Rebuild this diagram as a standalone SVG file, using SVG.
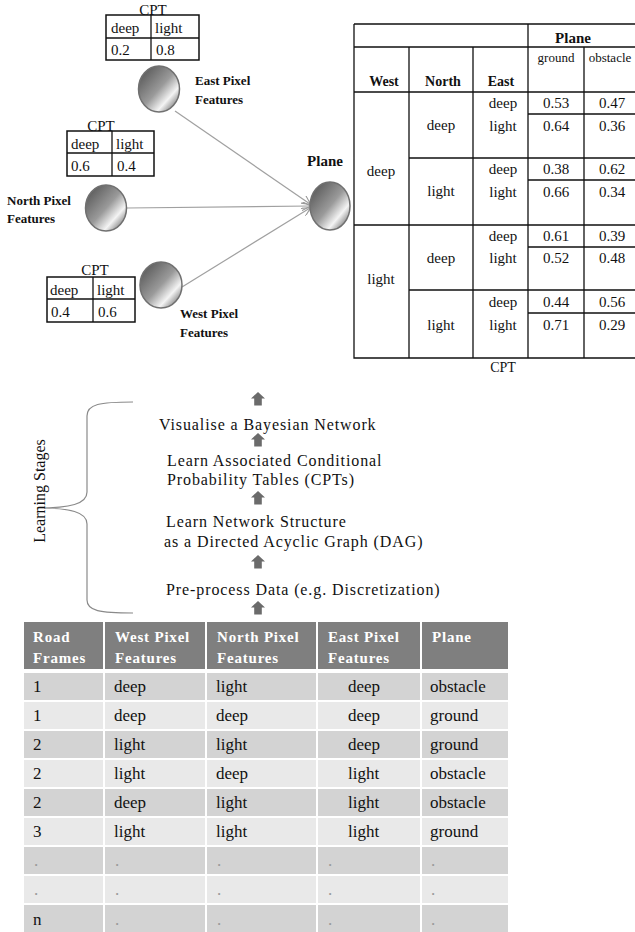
<svg xmlns="http://www.w3.org/2000/svg" width="635" height="932" viewBox="0 0 635 932">
<defs>
<linearGradient id="ball" x1="0" y1="0" x2="1" y2="1">
<stop offset="0" stop-color="#4a4a4a"/>
<stop offset="0.5" stop-color="#9a9a9a"/>
<stop offset="0.72" stop-color="#f4f4f4"/>
<stop offset="0.88" stop-color="#8a8a8a"/>
<stop offset="1" stop-color="#666"/>
</linearGradient>
<marker id="arr" viewBox="0 0 10 10" refX="9" refY="5" markerWidth="9" markerHeight="9" markerUnits="userSpaceOnUse" orient="auto">
<path d="M0,0 L10,5 L0,10" fill="none" stroke="#999" stroke-width="1.2"/>
</marker>
<path id="blk" d="M-3.8,13.5 L-3.8,6.5 L-7,6.5 L0,0 L7,6.5 L3.8,6.5 L3.8,13.5 Z"/>
</defs>
<style>
text{font-family:"Liberation Serif","Times New Roman",serif;fill:#111}
.t15{font-size:15px}
.lbl{font-size:13px;font-weight:bold}
.node{fill:url(#ball);stroke:#707070;stroke-width:1.5}
.cpt{fill:#fff;stroke:#111;stroke-width:1.5}
.ln{stroke:#111;stroke-width:1.3;fill:none}
.edge{stroke:#a0a0a0;stroke-width:1.2;fill:none}
.hd{font-size:14px;font-weight:bold}
.v{font-size:15px;text-anchor:middle}
.st{font-size:16px;letter-spacing:0.9px}
.th{font-size:15px;font-weight:bold;fill:#fff;letter-spacing:0.8px}
.td{font-size:17px}
.dot{font-size:17px;fill:#999}
.hdr{fill:#7f7f7f}
.ro{fill:#d3d3d3}
.re{fill:#e9e9e9}
.up{fill:#6b6b6b}
</style>

<!-- connectors -->
<g id="connectors">
<line class="edge" x1="175" y1="111" x2="310" y2="204" marker-end="url(#arr)"/>
<line class="edge" x1="127" y1="208" x2="310" y2="206" marker-end="url(#arr)"/>
<line class="edge" x1="182" y1="287" x2="310" y2="208" marker-end="url(#arr)"/>
</g>

<!-- East node -->
<g id="east">
<text class="t15" x="153" y="15" text-anchor="middle">CPT</text>
<rect class="cpt" x="106" y="15" width="93" height="45"/>
<line class="ln" x1="106" y1="38" x2="199" y2="38"/>
<line class="ln" x1="151" y1="15" x2="151" y2="60"/>
<text class="t15" x="111" y="33">deep</text>
<text class="t15" x="155" y="33">light</text>
<text class="t15" x="111" y="55">0.2</text>
<text class="t15" x="156" y="55">0.8</text>
<ellipse class="node" cx="159" cy="89" rx="20.5" ry="23"/>
<text class="lbl" x="195" y="85">East Pixel</text>
<text class="lbl" x="195" y="104">Features</text>
</g>

<!-- North node -->
<g id="north">
<text class="t15" x="101" y="131" text-anchor="middle">CPT</text>
<rect class="cpt" x="67" y="131" width="87" height="45"/>
<line class="ln" x1="67" y1="153" x2="154" y2="153"/>
<line class="ln" x1="112" y1="131" x2="112" y2="176"/>
<text class="t15" x="71" y="149">deep</text>
<text class="t15" x="116" y="149">light</text>
<text class="t15" x="71" y="171">0.6</text>
<text class="t15" x="117" y="171">0.4</text>
<ellipse class="node" cx="106" cy="208" rx="20.5" ry="23"/>
<text class="lbl" x="7" y="205">North Pixel</text>
<text class="lbl" x="7" y="223">Features</text>
</g>

<!-- West node -->
<g id="west">
<text class="t15" x="95" y="275" text-anchor="middle">CPT</text>
<rect class="cpt" x="47" y="277" width="88" height="45"/>
<line class="ln" x1="47" y1="299" x2="135" y2="299"/>
<line class="ln" x1="93" y1="277" x2="93" y2="322"/>
<text class="t15" x="50" y="295">deep</text>
<text class="t15" x="97" y="295">light</text>
<text class="t15" x="51" y="317">0.4</text>
<text class="t15" x="98" y="317">0.6</text>
<ellipse class="node" cx="161" cy="285" rx="21" ry="23"/>
<text class="lbl" x="180" y="318">West Pixel</text>
<text class="lbl" x="180" y="337">Features</text>
</g>

<!-- Plane node -->
<g id="plane">
<text x="325" y="166" text-anchor="middle" style="font-size:15px;font-weight:bold">Plane</text>
<ellipse class="node" cx="330" cy="206" rx="20" ry="24"/>
</g>

<!-- Plane CPT table -->
<g id="plane-cpt">
<path class="ln" d="M354,24 H640 M354,24 V358 H640 M354,47 H640 M354,92 H640 M354,225 H640 M409,158 H640 M409,290 H640 M528,114 H640 M528,180 H640 M528,247 H640 M528,313 H640 M528,24 V358 M409,47 V358 M473,47 V358 M584,47 V358"/>
<text x="573" y="43" text-anchor="middle" style="font-size:15px;font-weight:bold">Plane</text>
<text x="556" y="62" text-anchor="middle" style="font-size:13px">ground</text>
<text x="610" y="62" text-anchor="middle" style="font-size:13px">obstacle</text>
<text class="hd" x="384" y="86" text-anchor="middle">West</text>
<text class="hd" x="443" y="86" text-anchor="middle">North</text>
<text class="hd" x="501" y="86" text-anchor="middle">East</text>
<text class="v" x="381" y="176">deep</text>
<text class="v" x="381" y="284">light</text>
<text class="v" x="441" y="130">deep</text>
<text class="v" x="441" y="196">light</text>
<text class="v" x="441" y="263">deep</text>
<text class="v" x="441" y="330">light</text>
<text class="v" x="503" y="108">deep</text>
<text class="v" x="503" y="131">light</text>
<text class="v" x="503" y="174">deep</text>
<text class="v" x="503" y="197">light</text>
<text class="v" x="503" y="241">deep</text>
<text class="v" x="503" y="263">light</text>
<text class="v" x="503" y="307">deep</text>
<text class="v" x="503" y="330">light</text>
<text class="v" x="556" y="108">0.53</text>
<text class="v" x="612" y="108">0.47</text>
<text class="v" x="556" y="131">0.64</text>
<text class="v" x="612" y="131">0.36</text>
<text class="v" x="556" y="174">0.38</text>
<text class="v" x="612" y="174">0.62</text>
<text class="v" x="556" y="197">0.66</text>
<text class="v" x="612" y="197">0.34</text>
<text class="v" x="556" y="241">0.61</text>
<text class="v" x="612" y="241">0.39</text>
<text class="v" x="556" y="263">0.52</text>
<text class="v" x="612" y="263">0.48</text>
<text class="v" x="556" y="307">0.44</text>
<text class="v" x="612" y="307">0.56</text>
<text class="v" x="556" y="330">0.71</text>
<text class="v" x="612" y="330">0.29</text>
<text x="503" y="372" text-anchor="middle" style="font-size:14px">CPT</text>
</g>

<!-- Learning stages -->
<g id="stages">
<path d="M133,402 C100,402 87,404 87,416 V492 C87,504 70,508 38,508 C70,508 87,512 87,524 V600 C87,611 100,613 133,613" fill="none" stroke="#8a8a8a" stroke-width="1.2"/>
<text transform="translate(45,491) rotate(-90)" text-anchor="middle" style="font-size:16px">Learning Stages</text>
<use href="#blk" class="up" x="258" y="392"/>
<text class="st" x="159" y="430">Visualise a Bayesian Network</text>
<use href="#blk" class="up" x="258" y="433"/>
<text class="st" x="167" y="466">Learn Associated Conditional</text>
<text class="st" x="167" y="485">Probability Tables (CPTs)</text>
<use href="#blk" class="up" x="258" y="491"/>
<text class="st" x="166" y="527">Learn Network Structure</text>
<text class="st" x="164" y="547">as a Directed Acyclic Graph (DAG)</text>
<use href="#blk" class="up" x="258" y="555"/>
<text class="st" x="166" y="595">Pre-process Data (e.g. Discretization)</text>
<use href="#blk" class="up" x="258" y="601"/>
</g>

<!-- Data table -->
<g id="data-table">
<rect class="hdr" x="24" y="622" width="79" height="47"/>
<rect class="hdr" x="105" y="622" width="100" height="47"/>
<rect class="hdr" x="207" y="622" width="109" height="47"/>
<rect class="hdr" x="318" y="622" width="102" height="47"/>
<rect class="hdr" x="422" y="622" width="86" height="47"/>
<text class="th" x="33" y="642">Road</text>
<text class="th" x="33" y="663">Frames</text>
<text class="th" x="115" y="642">West Pixel</text>
<text class="th" x="115" y="663">Features</text>
<text class="th" x="217" y="642">North Pixel</text>
<text class="th" x="217" y="663">Features</text>
<text class="th" x="328" y="642">East Pixel</text>
<text class="th" x="328" y="663">Features</text>
<text class="th" x="432" y="642">Plane</text>

<g class="ro"><rect x="24" y="673" width="79" height="27"/><rect x="105" y="673" width="100" height="27"/><rect x="207" y="673" width="109" height="27"/><rect x="318" y="673" width="102" height="27"/><rect x="422" y="673" width="86" height="27"/></g>
<g class="re"><rect x="24" y="702" width="79" height="27"/><rect x="105" y="702" width="100" height="27"/><rect x="207" y="702" width="109" height="27"/><rect x="318" y="702" width="102" height="27"/><rect x="422" y="702" width="86" height="27"/></g>
<g class="ro"><rect x="24" y="731" width="79" height="27"/><rect x="105" y="731" width="100" height="27"/><rect x="207" y="731" width="109" height="27"/><rect x="318" y="731" width="102" height="27"/><rect x="422" y="731" width="86" height="27"/></g>
<g class="re"><rect x="24" y="760" width="79" height="27"/><rect x="105" y="760" width="100" height="27"/><rect x="207" y="760" width="109" height="27"/><rect x="318" y="760" width="102" height="27"/><rect x="422" y="760" width="86" height="27"/></g>
<g class="ro"><rect x="24" y="789" width="79" height="27"/><rect x="105" y="789" width="100" height="27"/><rect x="207" y="789" width="109" height="27"/><rect x="318" y="789" width="102" height="27"/><rect x="422" y="789" width="86" height="27"/></g>
<g class="re"><rect x="24" y="818" width="79" height="27"/><rect x="105" y="818" width="100" height="27"/><rect x="207" y="818" width="109" height="27"/><rect x="318" y="818" width="102" height="27"/><rect x="422" y="818" width="86" height="27"/></g>
<g class="ro"><rect x="24" y="847" width="79" height="27"/><rect x="105" y="847" width="100" height="27"/><rect x="207" y="847" width="109" height="27"/><rect x="318" y="847" width="102" height="27"/><rect x="422" y="847" width="86" height="27"/></g>
<g class="re"><rect x="24" y="876" width="79" height="27"/><rect x="105" y="876" width="100" height="27"/><rect x="207" y="876" width="109" height="27"/><rect x="318" y="876" width="102" height="27"/><rect x="422" y="876" width="86" height="27"/></g>
<g class="ro"><rect x="24" y="905" width="79" height="27"/><rect x="105" y="905" width="100" height="27"/><rect x="207" y="905" width="109" height="27"/><rect x="318" y="905" width="102" height="27"/><rect x="422" y="905" width="86" height="27"/></g>

<text class="td" x="33" y="692">1</text><text class="td" x="114" y="692">deep</text><text class="td" x="216" y="692">light</text><text class="td" x="348" y="692">deep</text><text class="td" x="430" y="692">obstacle</text>
<text class="td" x="33" y="721">1</text><text class="td" x="114" y="721">deep</text><text class="td" x="216" y="721">deep</text><text class="td" x="348" y="721">deep</text><text class="td" x="430" y="721">ground</text>
<text class="td" x="33" y="750">2</text><text class="td" x="114" y="750">light</text><text class="td" x="216" y="750">light</text><text class="td" x="348" y="750">deep</text><text class="td" x="430" y="750">ground</text>
<text class="td" x="33" y="779">2</text><text class="td" x="114" y="779">light</text><text class="td" x="216" y="779">deep</text><text class="td" x="348" y="779">light</text><text class="td" x="430" y="779">obstacle</text>
<text class="td" x="33" y="808">2</text><text class="td" x="114" y="808">deep</text><text class="td" x="216" y="808">light</text><text class="td" x="348" y="808">light</text><text class="td" x="430" y="808">obstacle</text>
<text class="td" x="33" y="837">3</text><text class="td" x="114" y="837">light</text><text class="td" x="216" y="837">light</text><text class="td" x="348" y="837">light</text><text class="td" x="430" y="837">ground</text>
<text class="dot" x="34" y="866">.</text><text class="dot" x="115" y="866">.</text><text class="dot" x="217" y="866">.</text><text class="dot" x="328" y="866">.</text><text class="dot" x="431" y="866">.</text>
<text class="dot" x="34" y="895">.</text><text class="dot" x="115" y="895">.</text><text class="dot" x="217" y="895">.</text><text class="dot" x="328" y="895">.</text><text class="dot" x="431" y="895">.</text>
<text class="td" x="33" y="925">n</text><text class="dot" x="115" y="925">.</text><text class="dot" x="217" y="925">.</text><text class="dot" x="328" y="925">.</text><text class="dot" x="431" y="925">.</text>
</g>
</svg>
